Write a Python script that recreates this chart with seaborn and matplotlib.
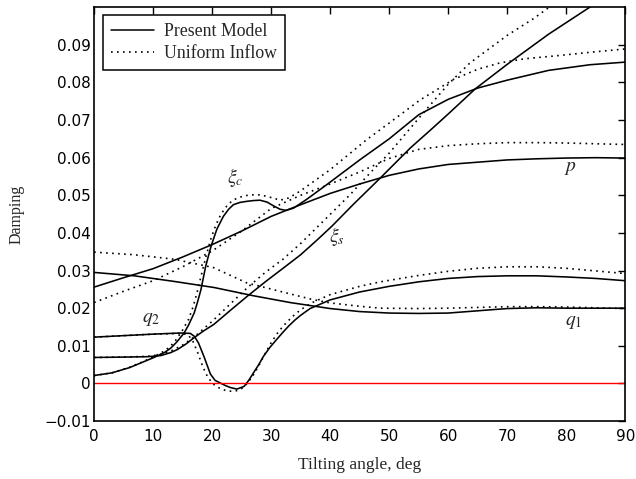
import matplotlib
matplotlib.use("Agg")
import matplotlib.pyplot as plt
import seaborn as sns
import pandas as pd
from matplotlib.lines import Line2D

# ---------------- data ----------------
p_model_x = [0, 5, 10, 15, 20, 25, 30, 35, 40, 45, 50, 55, 60, 65, 70, 75, 80, 85, 90]
p_model_y = [0.0256, 0.0281, 0.0305, 0.0336, 0.0369, 0.0405, 0.0444, 0.0475, 0.0505, 0.0530,
             0.0553, 0.0570, 0.0582, 0.0588, 0.0594, 0.0597, 0.0599, 0.0600, 0.0599]
p_unif_x = [0, 5, 10, 15, 20, 25, 30, 35, 40, 45, 50, 55, 60, 65, 70, 75, 80, 85, 90]
p_unif_y = [0.0215, 0.0245, 0.0273, 0.0310, 0.0352, 0.0405, 0.0465, 0.0500, 0.0530, 0.0562,
            0.0598, 0.0622, 0.0632, 0.0637, 0.0640, 0.0640, 0.0639, 0.0637, 0.0635]

xic_model_x = [0, 3, 6, 8, 10.3, 12, 13, 14, 15.25, 16, 16.95, 17.5, 18.1, 18.9, 19.8, 20.8, 21.9,
               22.8, 23.6, 24.7, 25.9, 27, 28.1, 29.3, 30.4, 31.5, 32.5, 33.8, 36, 39.4, 45, 50,
               55, 60, 65, 70, 77, 84, 90]
xic_model_y = [0.0021, 0.0028, 0.0042, 0.0055, 0.0070, 0.0083, 0.0094, 0.0110, 0.0134, 0.0155,
               0.0187, 0.0215, 0.0249, 0.0311, 0.0364, 0.0410, 0.0444, 0.0463, 0.0475, 0.0481,
               0.0484, 0.0486, 0.0487, 0.0482, 0.0472, 0.0463, 0.0460, 0.0466, 0.0489, 0.0528,
               0.0594, 0.0650, 0.0714, 0.0755, 0.0785, 0.0806, 0.0832, 0.0847, 0.0854]
xic_unif_x = [0, 3, 6, 8, 10, 12, 13, 14, 15, 16, 16.8, 17.5, 18.2, 19, 19.8, 20.6, 21.5, 22.5,
              23.5, 24.7, 26, 27.5, 28.5, 29.5, 30.5, 31.5, 33, 34.9, 40, 46.2, 50, 55.3, 60.9,
              65, 68.8, 73, 77.8, 84, 90]
xic_unif_y = [0.0021, 0.0028, 0.0043, 0.0056, 0.0070, 0.0087, 0.0100, 0.0118, 0.0142, 0.0170,
              0.0205, 0.0245, 0.0290, 0.0340, 0.0385, 0.0420, 0.0450, 0.0472, 0.0487, 0.0495,
              0.0500, 0.0502, 0.0500, 0.0496, 0.0492, 0.0487, 0.0493, 0.0511, 0.0568, 0.0648,
              0.0692, 0.0754, 0.0808, 0.0835, 0.0852, 0.0863, 0.0870, 0.0880, 0.0889]

xis_model_x = [0, 5, 9, 11.3, 13, 14.1, 15.5, 16.9, 18.5, 20.3, 23, 25.9, 29, 32.1, 35, 37.7,
               40.3, 44, 48.5, 53.6, 56.9, 60, 64.6, 70, 77, 84, 90]
xis_model_y = [0.0069, 0.0070, 0.0071, 0.0074, 0.0082, 0.0090, 0.0104, 0.0121, 0.0139, 0.0157,
               0.0193, 0.0231, 0.0270, 0.0307, 0.0342, 0.0380, 0.0418, 0.0477, 0.0546, 0.0626,
               0.0672, 0.0716, 0.0783, 0.0848, 0.0928, 0.1000, 0.1060]
xis_unif_x = [0, 5, 9, 11, 13, 15, 17, 20, 23, 26, 29, 32, 35, 39.4, 43.4, 46.8, 50, 55.3, 60,
              63.7, 70, 74.5, 78, 84, 90]
xis_unif_y = [0.0069, 0.0070, 0.0072, 0.0076, 0.0086, 0.0102, 0.0124, 0.0165, 0.0210, 0.0255,
              0.0295, 0.0330, 0.0372, 0.0440, 0.0502, 0.0560, 0.0612, 0.0710, 0.0795, 0.0852,
              0.0925, 0.0970, 0.1010, 0.1075, 0.1130]

q2_model_x = [0, 5, 10, 14.6, 16.3, 17, 17.7, 18.6, 19.7, 20.5, 21.4, 22.3, 23.1, 24.2, 25.4,
              26.2, 27, 27.9, 28.7, 29.8, 31, 32, 33, 34, 35, 36.6, 40, 45, 50, 55, 60, 65, 70,
              75, 80, 85, 90]
q2_model_y = [0.0123, 0.0127, 0.0131, 0.0134, 0.0133, 0.0125, 0.0107, 0.0072, 0.0025, 0.0008,
              0.0001, -0.0006, -0.0011, -0.0015, -0.0008, 0.0008, 0.0028, 0.0050, 0.0072,
              0.0096, 0.0118, 0.0136, 0.0153, 0.0168, 0.0181, 0.0199, 0.0222, 0.0243, 0.0258,
              0.0270, 0.0279, 0.0284, 0.0286, 0.0286, 0.0283, 0.0279, 0.0273]
q2_unif_x = [0, 5, 10, 15, 16, 16.8, 17.6, 18.4, 19.3, 20.3, 21.3, 22.3, 23.3, 24.3, 25.3, 26.2,
             27.1, 28, 29, 30, 31, 32, 33.5, 35, 37, 40, 45, 48.5, 55, 60, 65, 70, 75, 80, 85, 90]
q2_unif_y = [0.0123, 0.0127, 0.0131, 0.0133, 0.0128, 0.0110, 0.0080, 0.0045, 0.0015, -0.0003,
             -0.0013, -0.0019, -0.0021, -0.0019, -0.0011, 0.0005, 0.0025, 0.0050, 0.0080,
             0.0108, 0.0132, 0.0152, 0.0176, 0.0196, 0.0215, 0.0236, 0.0258, 0.0270, 0.0287,
             0.0298, 0.0306, 0.0310, 0.0310, 0.0306, 0.0299, 0.0292]

q1_model_x = [0, 6.8, 13.6, 20.3, 27, 33.2, 36.6, 40, 45, 50, 55, 60, 65, 70, 75, 80, 85, 90]
q1_model_y = [0.0295, 0.0286, 0.0271, 0.0255, 0.0233, 0.0215, 0.0207, 0.0199, 0.0191, 0.0187,
              0.0186, 0.0187, 0.0193, 0.0199, 0.0201, 0.0200, 0.0200, 0.0200]
q1_unif_x = [0, 6.8, 13.6, 20.2, 25.9, 32.7, 37, 40, 45, 48.5, 55, 60, 65, 70, 75, 80, 85, 90]
q1_unif_y = [0.0349, 0.0342, 0.0330, 0.0308, 0.0267, 0.0240, 0.0223, 0.0214, 0.0205, 0.0200,
             0.0199, 0.0200, 0.0202, 0.0204, 0.0204, 0.0203, 0.0201, 0.0199]

x_ticks = [0, 10, 20, 30, 40, 50, 60, 70, 80, 90]
y_ticks = [-0.01, 0, 0.01, 0.02, 0.03, 0.04, 0.05, 0.06, 0.07, 0.08, 0.09]
y_tick_labels = ["\u22120.01", "0", "0.01", "0.02", "0.03", "0.04", "0.05", "0.06", "0.07",
                 "0.08", "0.09"]
legend_labels = ["Present Model", "Uniform Inflow"]

# ---------------- plot ----------------
sns.set_theme(style="white")
plt.rcParams["font.family"] = ["DejaVu Sans"]
plt.rcParams["mathtext.fontset"] = "stix"

fig = plt.figure(figsize=(6.36, 4.79), dpi=100)
ax = fig.add_axes([0.148, 0.121, 0.835, 0.864])

dot_style = (0, (1, 2.6))
series = [
    (p_model_x, p_model_y, "-"), (p_unif_x, p_unif_y, dot_style),
    (xic_model_x, xic_model_y, "-"), (xic_unif_x, xic_unif_y, dot_style),
    (xis_model_x, xis_model_y, "-"), (xis_unif_x, xis_unif_y, dot_style),
    (q2_model_x, q2_model_y, "-"), (q2_unif_x, q2_unif_y, dot_style),
    (q1_model_x, q1_model_y, "-"), (q1_unif_x, q1_unif_y, dot_style),
]
for xs, ys, ls in series:
    df = pd.DataFrame({"x": xs, "y": ys})
    sns.lineplot(data=df, x="x", y="y", ax=ax, color="black",
                 linewidth=1.15 if ls == "-" else 1.2, linestyle=ls,
                 sort=False, estimator=None)

ax.axhline(0, color="red", linewidth=1.0)

ax.set_xlim(0, 90)
ax.set_ylim(-0.01, 0.1)
ax.set_xticks(x_ticks)
ax.set_yticks(y_ticks)
ax.set_yticklabels(y_tick_labels)
ax.tick_params(direction="in", length=5, width=1, top=True, right=True,
               labelsize=11, colors="black")
ax.tick_params(axis="y", pad=2.5)
ax.tick_params(axis="x", pad=6)
for s in ax.spines.values():
    s.set_color("black")
    s.set_linewidth(1.2)

serif = ["Liberation Serif", "DejaVu Serif"]
ax.set_xlabel("Tilting angle, deg", family=serif, fontsize=12.5, labelpad=9)
ax.set_ylabel("Damping", family=serif, fontsize=11.5, labelpad=14)

ax.text(23.9, 0.0547, r"$\xi_c$", fontsize=14, ha="center", va="center")
ax.text(41.2, 0.0390, r"$\xi_s$", fontsize=14, ha="center", va="center")
ax.text(80.7, 0.0573, r"$p$", fontsize=14, ha="center", va="center")
ax.text(81.2, 0.0165, r"$q_{\mathit{1}}$", fontsize=14, ha="center", va="center")
ax.text(9.6, 0.0172, r"$q_2$", fontsize=14, ha="center", va="center")

handles = [Line2D([], [], color="black", lw=1.1, linestyle="-"),
           Line2D([], [], color="black", lw=1.2, linestyle=dot_style)]
leg = ax.legend(handles, legend_labels, loc="upper left", bbox_to_anchor=(0.017, 0.981),
                frameon=True, fancybox=False, framealpha=1, edgecolor="black",
                prop={"family": serif, "size": 12.8}, handlelength=2.4,
                borderpad=0.45, labelspacing=0.3, handletextpad=0.6, borderaxespad=0)
leg.get_frame().set_linewidth(1.1)

fig.savefig("out.png", dpi=100)
